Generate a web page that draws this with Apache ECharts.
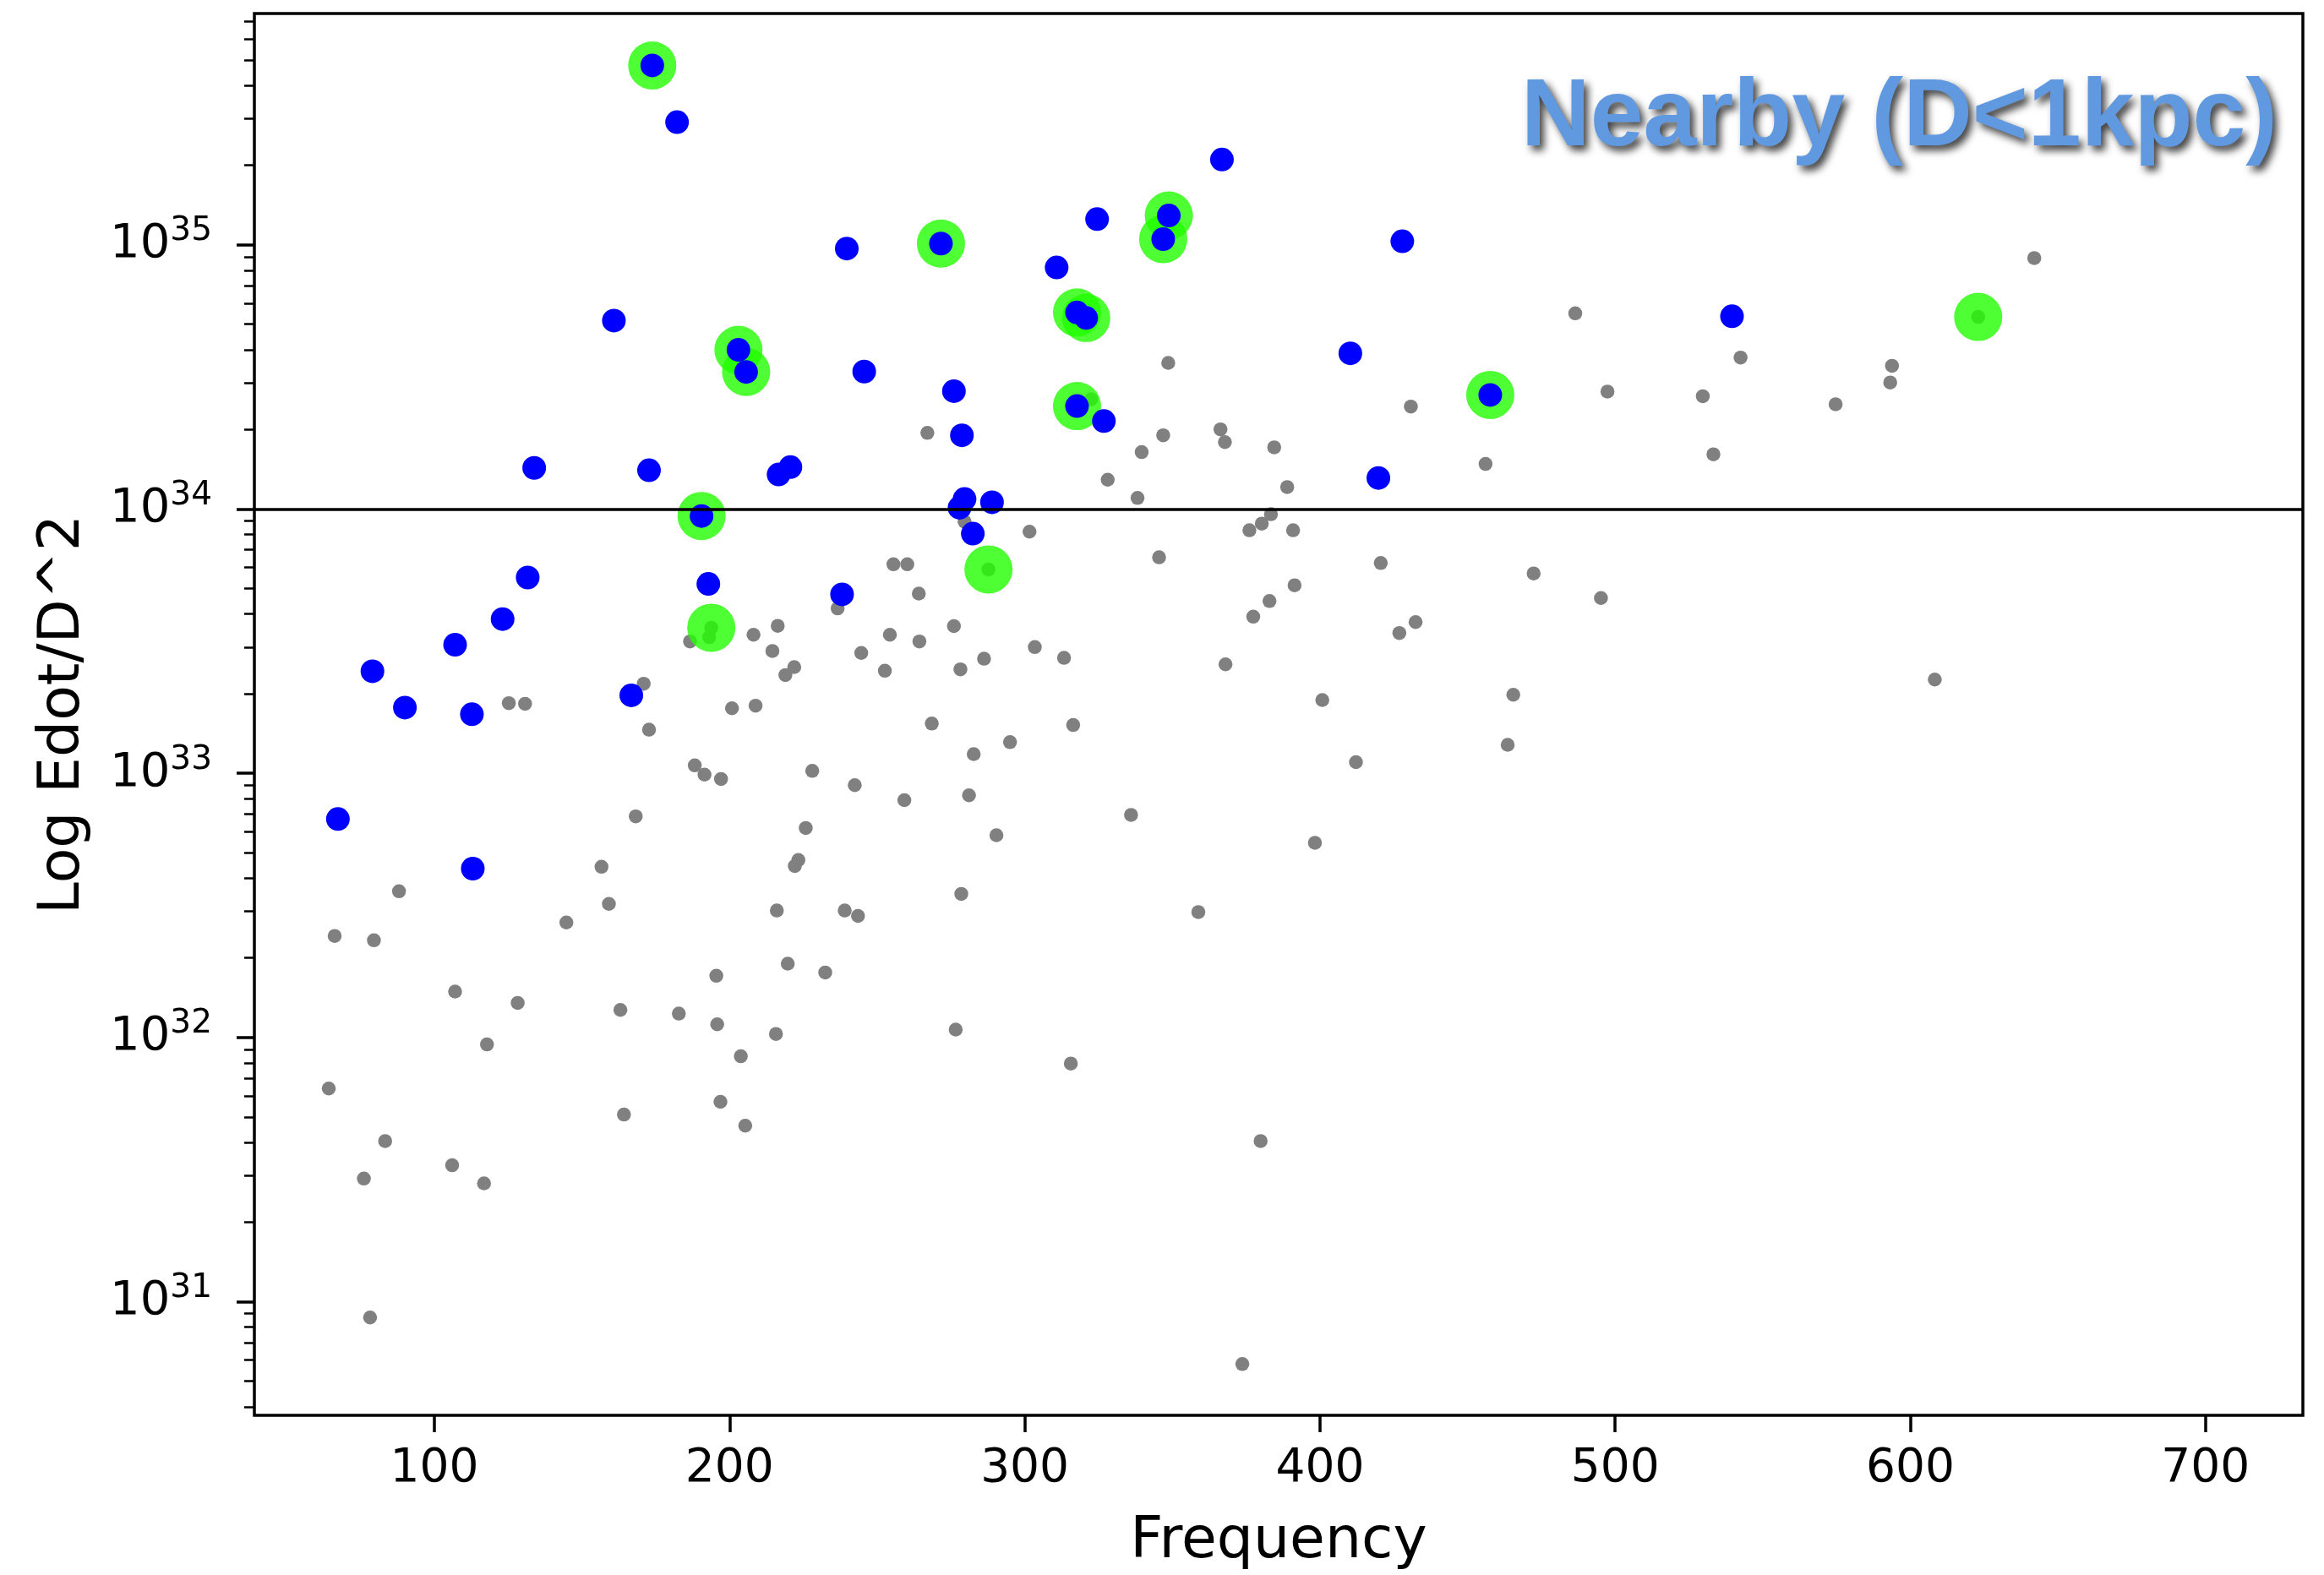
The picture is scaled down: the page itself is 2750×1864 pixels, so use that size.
<!DOCTYPE html>
<html>
<head>
<meta charset="utf-8">
<title>Nearby (D&lt;1kpc)</title>
<script src="https://cdn.jsdelivr.net/npm/echarts@6.0.0/dist/echarts.min.js"></script>
<style>
  html, body { margin: 0; padding: 0; background: #fff; }
  #chart { width: 2750px; height: 1864px; }
</style>
</head>
<body>
<div id="chart"></div>
<script>
  // all pulsars (grey)
  const allFreq = [642.0, 486.5, 542.5, 593.8, 593.2, 497.4, 529.7, 574.7, 430.8, 533.3,
    456.1, 348.6, 267.0, 346.9, 366.3, 367.8, 384.5, 339.6, 328.1, 388.9,
    338.2, 383.4, 380.3, 376.1, 390.9, 301.6, 279.6, 255.5, 260.2, 345.5,
    264.1, 420.6, 472.4, 391.4, 382.9, 377.4, 276.0, 432.4, 426.9, 264.3,
    303.4, 286.2, 313.3, 278.2, 368.0, 465.5, 400.8, 268.5, 316.4, 295.0,
    282.7, 463.6, 412.2, 281.1, 336.0, 290.4, 398.3, 278.5, 358.8, 236.6,
    216.3, 208.1, 186.6, 254.3, 214.5, 244.6, 221.9, 218.9, 252.6, 170.9,
    208.8, 200.8, 125.2, 130.7, 172.7, 188.2, 191.5, 197.1, 228.0, 242.4,
    259.2, 168.2, 225.8, 223.3, 222.1, 156.6, 88.0, 159.1, 144.7, 216.0,
    239.0, 243.5, 66.2, 79.5, 107.0, 128.2, 195.5, 219.7, 232.4, 163.0,
    182.8, 195.8, 215.7, 117.8, 203.8, 64.2, 164.2, 196.9, 205.3, 83.3,
    106.0, 76.1, 116.8, 78.2, 276.6, 315.6, 379.9, 373.7, 495.2, 608.3,
    287.7, 623.0, 193.8, 193.1, 322.5]
  const allEdot = [8.9e34, 5.5e34, 3.74e34, 3.48e34, 3.01e34, 2.78e34, 2.67e34, 2.49e34, 2.44e34, 1.61e34,
    1.48e34, 3.57e34, 1.94e34, 1.90e34, 2.00e34, 1.79e34, 1.71e34, 1.64e34, 1.29e34, 1.21e34,
    1.10e34, 9.55e33, 8.8e33, 8.3e33, 8.3e33, 8.2e33, 8.95e33, 6.17e33, 6.17e33, 6.56e33,
    4.78e33, 6.24e33, 5.7e33, 5.14e33, 4.48e33, 3.91e33, 3.60e33, 3.73e33, 3.39e33, 3.15e33,
    3.00e33, 2.71e33, 2.73e33, 2.47e33, 2.58e33, 1.98e33, 1.89e33, 1.54e33, 1.52e33, 1.31e33,
    1.18e33, 1.28e33, 1.10e33, 8.24e32, 6.95e32, 5.82e32, 5.45e32, 3.49e32, 2.98e32, 4.2e33,
    3.61e33, 3.34e33, 3.15e33, 3.34e33, 2.90e33, 2.85e33, 2.52e33, 2.35e33, 2.44e33, 2.18e33,
    1.80e33, 1.76e33, 1.84e33, 1.83e33, 1.46e33, 1.07e33, 9.87e32, 9.5e32, 1.02e33, 9.0e32,
    7.9e32, 6.86e32, 6.2e32, 4.69e32, 4.45e32, 4.42e32, 3.57e32, 3.20e32, 2.72e32, 3.02e32,
    3.02e32, 2.88e32, 2.42e32, 2.33e32, 1.49e32, 1.35e32, 1.71e32, 1.90e32, 1.76e32, 1.27e32,
    1.23e32, 1.12e32, 1.03e32, 9.4e31, 8.48e31, 6.4e31, 5.1e31, 5.7e31, 4.63e31, 4.05e31,
    3.28e31, 2.92e31, 2.80e31, 8.7e30, 1.07e32, 7.96e31, 4.05e31, 5.8e30, 4.6e33, 2.26e33,
    5.9e33, 5.33e34, 3.55e33, 3.27e33, 2.6e34]

  // nearby (D<1kpc), blue
  const nearFreq = [173.8, 182.2, 366.8, 324.5, 348.8, 346.9, 271.6, 239.7, 427.9, 310.8,
    160.8, 317.7, 320.8, 539.6, 203.0, 205.6, 245.6, 410.3, 276.0, 457.7,
    317.7, 326.8, 278.7, 133.8, 172.7, 216.6, 220.6, 419.8, 279.6, 277.9,
    288.9, 282.4, 190.5, 131.6, 192.8, 238.1, 123.1, 107.0, 79.0, 90.0,
    112.7, 166.7, 67.3, 113.0]
  const nearEdot = [4.77e35, 2.91e35, 2.10e35, 1.25e35, 1.29e35, 1.05e35, 1.01e35, 9.67e34, 1.03e35, 8.2e34,
    5.16e34, 5.54e34, 5.28e34, 5.36e34, 4.0e34, 3.3e34, 3.31e34, 3.88e34, 2.79e34, 2.70e34,
    2.45e34, 2.15e34, 1.90e34, 1.43e34, 1.40e34, 1.35e34, 1.44e34, 1.31e34, 1.09e34, 1.01e34,
    1.06e34, 8.06e33, 9.4e33, 5.5e33, 5.2e33, 4.75e33, 3.83e33, 3.06e33, 2.43e33, 1.77e33,
    1.67e33, 1.97e33, 6.7e32, 4.35e32]

  // highlighted (green rings)
  const markFreq = [173.8, 348.8, 346.9, 271.6, 317.7, 320.8, 623.0, 203.0, 205.6, 457.7,
    317.7, 190.5, 287.7, 193.8]
  const markEdot = [4.77e35, 1.29e35, 1.05e35, 1.01e35, 5.54e34, 5.28e34, 5.33e34, 4.0e34, 3.3e34, 2.70e34,
    2.45e34, 9.4e33, 5.9e33, 3.55e33]

  const freqTicks = [100, 200, 300, 400, 500, 600, 700]
  const powerTicks = [1e31, 1e32, 1e33, 1e34, 1e35]
  const cutLine = 1e34
  const yMin = 3.71e30
  const yMax = 7.5e35

  let minorTicks = []
  for (let e = 30; e <= 35; e++) {
    for (let k = 2; k <= 9; k++) {
      let v = k * Math.pow(10, e)
      if (v > yMin && v < yMax) minorTicks.push(v)
    }
  }

  function zip(xs, ys) {
    return xs.map((x, i) => [x, ys[i]])
  }

  const font = 'DejaVu Sans'
  let myChart = echarts.init(document.getElementById('chart'))
  myChart.setOption({
    animation: false,
    backgroundColor: '#fff',
    title: {
      text: 'Nearby (D<1kpc)',
      right: 50,
      top: 79,
      textStyle: {
        fontFamily: 'Liberation Sans',
        fontWeight: 'bold',
        fontSize: 113,
        color: '#6199E1',
        textShadowColor: 'rgba(0,0,0,0.75)',
        textShadowBlur: 10,
        textShadowOffsetX: 5,
        textShadowOffsetY: 6
      }
    },
    grid: {
      left: 301,
      top: 16,
      right: 25,
      bottom: 187,
      show: true,
      borderColor: '#000',
      borderWidth: 3.5
    },
    xAxis: {
      type: 'value',
      min: 39,
      max: 733,
      name: 'Frequency',
      nameLocation: 'middle',
      nameGap: 116,
      nameTextStyle: { fontFamily: font, fontSize: 68, color: '#000' },
      axisLine: { show: false },
      splitLine: { show: false },
      axisTick: {
        customValues: freqTicks,
        length: 20,
        lineStyle: { color: '#000', width: 3.5 }
      },
      axisLabel: {
        customValues: freqTicks,
        margin: 36,
        fontFamily: font,
        fontSize: 55,
        color: '#000'
      }
    },
    yAxis: [
      {
        type: 'log',
        logBase: 10,
        min: yMin,
        max: yMax,
        name: 'Log Edot/D^2',
        nameLocation: 'middle',
        nameGap: 192,
        nameTextStyle: { fontFamily: font, fontSize: 68, color: '#000' },
        axisLine: { show: false },
        splitLine: { show: false },
        axisTick: {
          customValues: powerTicks,
          length: 21,
          lineStyle: { color: '#000', width: 3.5 }
        },
        axisLabel: {
          customValues: powerTicks,
          margin: 50,
          formatter: function (v) {
            return '{b|10}{s|' + Math.round(Math.log10(v)) + '}'
          },
          rich: {
            b: { fontFamily: font, fontSize: 56, lineHeight: 70, color: '#000' },
            s: { fontFamily: font, fontSize: 39, lineHeight: 39, verticalAlign: 'top', color: '#000' }
          }
        }
      },
      {
        // minor ticks only
        type: 'log',
        logBase: 10,
        min: yMin,
        max: yMax,
        position: 'left',
        axisLine: { show: false },
        splitLine: { show: false },
        axisLabel: { show: false },
        axisTick: {
          customValues: minorTicks,
          length: 12,
          lineStyle: { color: '#000', width: 2.5 }
        }
      }
    ],
    series: [
      {
        name: 'all',
        type: 'scatter',
        symbolSize: 16.5,
        itemStyle: { color: '#808080', opacity: 1 },
        data: zip(allFreq, allEdot),
        markLine: {
          silent: true,
          symbol: ['none', 'none'],
          label: { show: false },
          lineStyle: { color: '#000', width: 3.5, type: 'solid', opacity: 1 },
          data: [{ yAxis: cutLine }]
        }
      },
      {
        name: 'marked',
        type: 'scatter',
        symbolSize: 57,
        itemStyle: { color: 'rgba(34,255,0,0.8)', opacity: 1 },
        data: zip(markFreq, markEdot)
      },
      {
        name: 'nearby',
        type: 'scatter',
        symbolSize: 28,
        itemStyle: { color: '#0000ff', opacity: 1 },
        data: zip(nearFreq, nearEdot)
      }
    ]
  })
</script>
</body>
</html>
